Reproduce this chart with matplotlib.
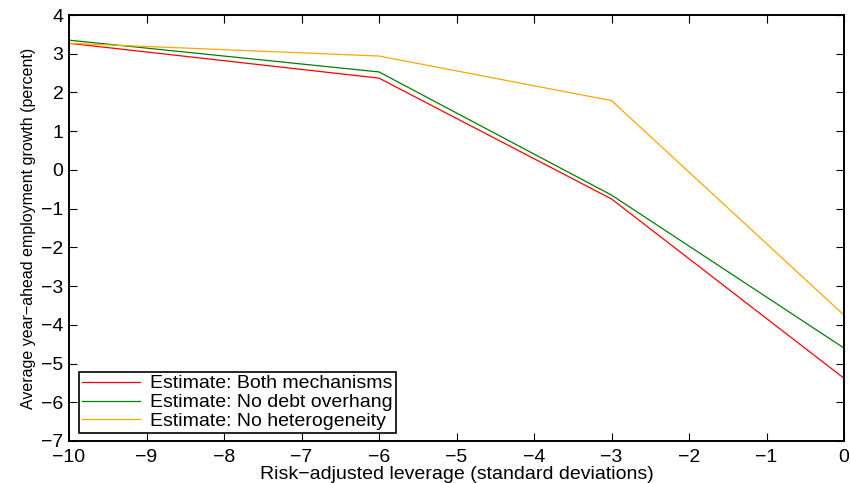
import numpy as np
import matplotlib
matplotlib.use("Agg")
import matplotlib.pyplot as plt

plt.rcParams['font.family'] = ['Liberation Sans', 'DejaVu Sans']

# leverage grid (std deviations) and estimated employment growth (percent)
leverage = [-10, -6, -3, 0]
both_mechanisms = [3.27, 2.37, -0.75, -5.38]
no_debt_overhang = [3.35, 2.53, -0.65, -4.60]
no_heterogeneity = [3.27, 2.94, 1.79, -3.75]

labels = ['Estimate: Both mechanisms',
          'Estimate: No debt overhang',
          'Estimate: No heterogeneity']
colors = ['#ff0000', '#008000', '#ffa500']

fig = plt.figure(figsize=(8.5, 4.83), dpi=100)
ax = fig.add_axes([69/850, 1 - 441/483, (844 - 69)/850, (441 - 15)/483])

for ys, lab, c in zip([both_mechanisms, no_debt_overhang, no_heterogeneity], labels, colors):
    ax.plot(leverage, ys, color=c, lw=0.9, label=lab)

ax.set_xlim(-10, 0)
ax.set_ylim(-7, 4)
ax.set_xticks(np.arange(-10, 1, 1))
ax.set_yticks(np.arange(-7, 5, 1))
ax.tick_params(direction='in', length=6, width=0.8, labelsize=14, top=True, right=True)
ax.tick_params(axis='x', pad=6)
ax.tick_params(axis='y', pad=4)
for s in ax.spines.values():
    s.set_linewidth(1.4)

ax.set_xlabel('Risk\u2212adjusted leverage (standard deviations)', fontsize=14, labelpad=0)
ax.set_ylabel('Average year\u2212ahead employment growth (percent)', fontsize=11.5, labelpad=4)

leg = ax.legend(loc='lower left', bbox_to_anchor=(0.013, 0.019), fontsize=14, handlelength=3.0,
                fancybox=False, framealpha=1, edgecolor='black', borderpad=0.15,
                labelspacing=0.1, handletextpad=0.5, borderaxespad=0, handleheight=0.6)
leg.get_frame().set_linewidth(1.2)
leg._legend_box.align = 'left'

fig.savefig('out.png', dpi=100)
